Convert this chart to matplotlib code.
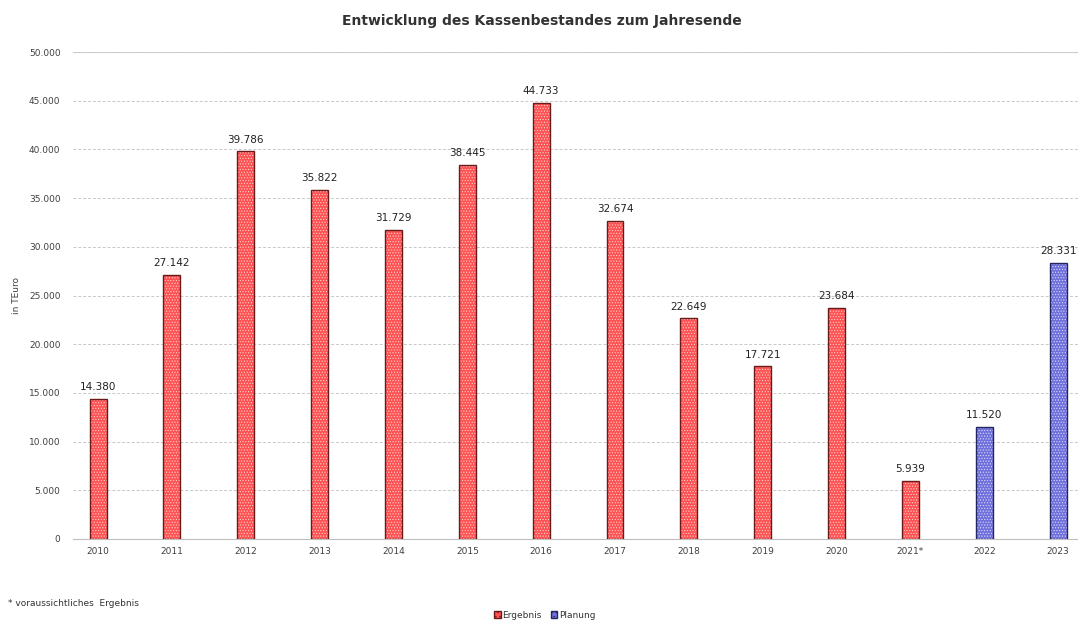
import matplotlib.pyplot as plt
from matplotlib.patches import Patch
from matplotlib.ticker import FuncFormatter

jahre = ["2010", "2011", "2012", "2013", "2014", "2015", "2016", "2017",
         "2018", "2019", "2020", "2021*", "2022", "2023"]
bestand = [14380, 27142, 39786, 35822, 31729, 38445, 44733, 32674,
           22649, 17721, 23684, 5939, 11520, 28331]
art = ["Ergebnis"] * 12 + ["Planung"] * 2

farben = {"Ergebnis": ("#ff5252", "#6a1a1a"), "Planung": ("#7070dc", "#26265e")}

plt.rcParams['hatch.linewidth'] = 0.5

fig = plt.figure(figsize=(10.78, 6.23), dpi=100)
ax = fig.add_axes([73 / 1078, 84 / 623, 1005 / 1078, 487 / 623])

x = list(range(len(jahre)))
breite = 0.23
for i, wert in enumerate(bestand):
    fc, ec = farben[art[i]]
    # Fuellung mit feinem Punktraster, danach der Rahmen
    ax.bar(x[i], wert, width=breite, color=fc, edgecolor="#ffd0d0" if art[i] == "Ergebnis" else "#d8d8ff",
           hatch="......", linewidth=0, zorder=3)
    ax.bar(x[i], wert, width=breite, fill=False, edgecolor=ec,
           linewidth=1.0, zorder=4)
    ax.text(x[i], wert + 700, f"{wert:,}".replace(",", "."), ha="center",
            va="bottom", fontsize=7.5, color="#222222", zorder=5)

ax.set_xlim(-0.34, 13.27)
ax.set_ylim(0, 50000)
ax.set_yticks(range(0, 50001, 5000))
ax.yaxis.set_major_formatter(FuncFormatter(
    lambda v, p: "0" if v == 0 else f"{int(v):,}".replace(",", ".")))
ax.set_xticks(x)
ax.set_xticklabels(jahre)
ax.tick_params(axis="both", length=0, labelsize=6.5, colors="#404040")
ax.tick_params(axis="x", pad=6)
ax.tick_params(axis="y", pad=9)

ax.grid(axis="y", color="#c8c8c8", linestyle=(0, (3, 2)), linewidth=0.7, zorder=0)
ax.axhline(50000, color="#d0d0d0", linewidth=0.8, zorder=1)
for s in ["top", "right", "left"]:
    ax.spines[s].set_visible(False)
ax.spines["bottom"].set_color("#bfbfbf")

ax.set_ylabel("in TEuro", fontsize=6.5, color="#404040")
ax.yaxis.set_label_coords(-0.052, 0.5)

fig.text(0.503, 0.967, "Entwicklung des Kassenbestandes zum Jahresende",
         ha="center", va="center", fontsize=10, fontweight="bold", color="#333333")
fig.text(8 / 1078, 1 - 603 / 623, "* voraussichtliches  Ergebnis",
         ha="left", va="center", fontsize=6.5, color="#333333")

handles = [Patch(facecolor=farben[k][0], edgecolor=farben[k][1], hatch="....", label=k)
           for k in ["Ergebnis", "Planung"]]
fig.legend(handles=handles, loc="center", bbox_to_anchor=(545 / 1078, 1 - 615 / 623),
           ncol=2, frameon=False, fontsize=6.5, handlelength=0.7, handleheight=0.7,
           handletextpad=0.2, columnspacing=1.0, labelcolor="#333333")

fig.savefig("out.png", dpi=100)
